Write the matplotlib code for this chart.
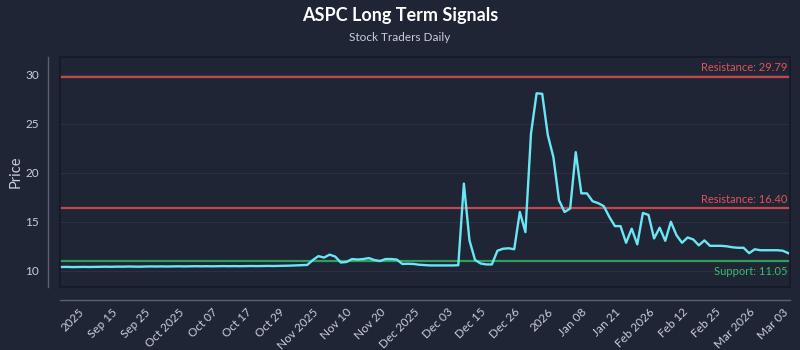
import numpy as np
import matplotlib
matplotlib.use("Agg")
import matplotlib.pyplot as plt
from matplotlib.patches import Rectangle
from matplotlib.transforms import ScaledTranslation

# ASPC closing prices (one value per session, oldest first)
prices = [
    10.39, 10.40, 10.38, 10.39, 10.40, 10.39, 10.40, 10.41, 10.42, 10.41,
    10.43, 10.42, 10.44, 10.43, 10.42, 10.44, 10.45, 10.44, 10.45, 10.44,
    10.45, 10.46, 10.45, 10.46, 10.47, 10.46, 10.47, 10.46, 10.47, 10.48,
    10.47, 10.48, 10.47, 10.48, 10.49, 10.48, 10.49, 10.50, 10.49, 10.50,
    10.51, 10.53, 10.55, 10.57, 10.60, 11.10, 11.50, 11.35, 11.65, 11.45,
    10.85, 10.90, 11.20, 11.15, 11.20, 11.30, 11.10, 11.00, 11.20, 11.20,
    11.15, 10.70, 10.72, 10.70, 10.62, 10.58, 10.55, 10.55, 10.55, 10.55,
    10.55, 10.57, 18.90, 13.10, 11.10, 10.75, 10.65, 10.65, 12.05, 12.25,
    12.30, 12.20, 16.00, 13.95, 24.00, 28.10, 28.05, 23.85, 21.60, 17.20,
    16.00, 16.35, 22.10, 17.90, 17.90, 17.10, 16.90, 16.60, 15.50, 14.56,
    14.56, 12.86, 14.30, 12.70, 15.90, 15.70, 13.30, 14.40, 13.06, 15.00,
    13.64, 12.86, 13.40, 13.20, 12.60, 13.10, 12.55, 12.55, 12.55, 12.50,
    12.40, 12.35, 12.35, 11.80, 12.20, 12.10, 12.10, 12.10, 12.10, 12.05,
    11.80,
]

resistance_levels = [29.79, 16.40]
support_levels = [11.05]

tick_idx = list(range(4, 131, 6))
tick_labels = [
    "2025", "Sep 15", "Sep 25", "Oct 2025", "Oct 07", "Oct 17", "Oct 29",
    "Nov 2025", "Nov 10", "Nov 20", "Dec 2025", "Dec 03", "Dec 15", "Dec 26",
    "2026", "Jan 08", "Jan 21", "Feb 2026", "Feb 12", "Feb 25", "Mar 2026",
    "Mar 03",
]

BG = "#1f2534"
TXT = "#c9ced8"
RED_LINE = "#c2464e"
RED_TXT = "#e0535b"
GREEN_LINE = "#2f9e5c"
GREEN_TXT = "#3cbc6c"
CYAN = "#6be6f4"

plt.rcParams["font.family"] = ["Lato", "DejaVu Sans"]

fig = plt.figure(figsize=(8, 3.5), dpi=100, facecolor=BG)
ax = fig.add_axes([0.075, 0.18, 0.9125, 0.657])
ax.set_facecolor(BG)

# detached left/bottom spines (set first: moving a spine resets its ticks)
for side in ["top", "right"]:
    ax.spines[side].set_visible(False)
for side in ["left", "bottom"]:
    ax.spines[side].set_position(("outward", 9))
    ax.spines[side].set_color("#5a6070")
    ax.spines[side].set_linewidth(1.0)
ax.add_patch(Rectangle((0, 0), 1, 1, transform=ax.transAxes, fill=False,
                       edgecolor="#141926", lw=1.2, zorder=5, clip_on=False))

x = np.arange(len(prices))
ax.plot(x, prices, color=CYAN, lw=1.7, zorder=4)

for lvl in resistance_levels:
    ax.axhline(lvl, color=RED_LINE, lw=1.6, zorder=3)
    ax.text(0.997, lvl + 0.35, f"Resistance: {lvl:.2f}", transform=ax.get_yaxis_transform(),
            ha="right", va="bottom", color=RED_TXT, fontsize=8)
for lvl in support_levels:
    ax.axhline(lvl, color=GREEN_LINE, lw=1.6, zorder=3)
    ax.text(0.997, lvl - 0.55, f"Support: {lvl:.2f}", transform=ax.get_yaxis_transform(),
            ha="right", va="top", color=GREEN_TXT, fontsize=8)

ax.set_xlim(-0.2, 130.3)
ax.set_ylim(8.35, 31.8)
ax.set_yticks([10, 15, 20, 25, 30])
ax.set_xticks(tick_idx)
ax.set_xticklabels(tick_labels)
ax.grid(axis="y", color="#2a3142", lw=0.8, zorder=0)
ax.grid(axis="x", visible=False)
ax.tick_params(colors=TXT, labelsize=8.5, length=0, pad=6)
ax.tick_params(axis="x", pad=5)
shift = ScaledTranslation(-4 / 72, 0, fig.dpi_scale_trans)
for lab in ax.get_xticklabels():
    lab.set_rotation(45)
    lab.set_ha("right")
    lab.set_rotation_mode("anchor")
    lab.set_transform(lab.get_transform() + shift)

ax.set_ylabel("Price", color=TXT, fontsize=10.5, labelpad=2)

fig.text(0.5, 0.955, "ASPC Long Term Signals", ha="center", va="center",
         color="white", fontsize=13, fontweight="bold")
fig.text(0.5, 0.892, "Stock Traders Daily", ha="center", va="center",
         color=TXT, fontsize=8.5)

fig.savefig("out.png", dpi=100, facecolor=BG)
